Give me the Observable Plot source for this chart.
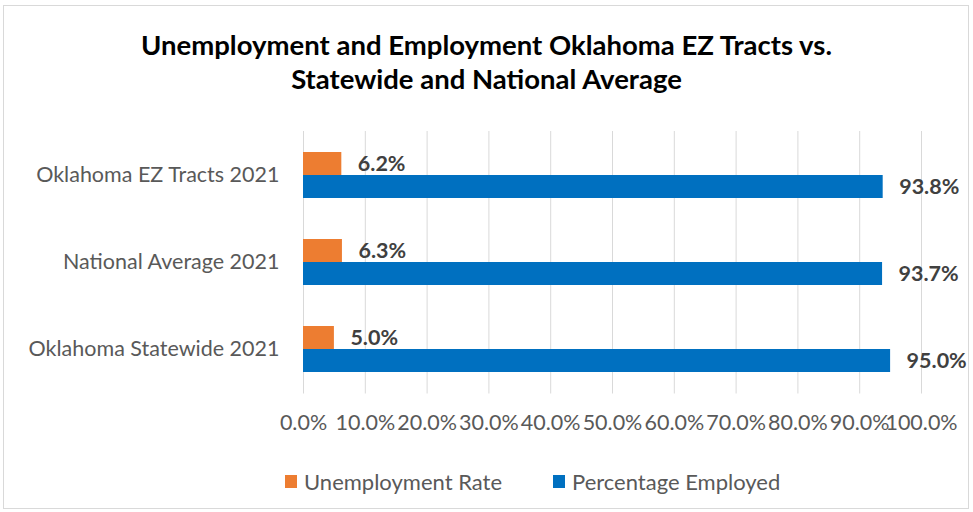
<!DOCTYPE html>
<html>
<head>
<meta charset="utf-8">
<script src="https://cdn.jsdelivr.net/npm/d3@7"></script>
<script src="https://cdn.jsdelivr.net/npm/@observablehq/plot@0.6"></script>
<style>
  body { margin: 0; background: #fff; font-family: Lato, "Open Sans", sans-serif; }
  #wrap { position: relative; width: 973px; height: 512px; overflow: hidden; }
  #frame { position: absolute; left: 3px; top: 5px; width: 966px; height: 504px; border: 1px solid #d9d9d9; box-sizing: border-box; }
  #title { position: absolute; left: 0; top: 28px; width: 973px; text-align: center; font-weight: bold; font-size: 27.5px; line-height: 34px; color: #000; }
  #chart { position: absolute; left: 0; top: 120px; }
  .leg { position: absolute; top: 468px; font-size: 22px; color: #595959; display: flex; align-items: center; }
  .sw { width: 12px; height: 13px; margin-right: 7px; }
</style>
</head>
<body>
<div id="wrap">
  <div id="frame"></div>
  <div id="title">Unemployment and Employment Oklahoma EZ Tracts vs.<br>Statewide and National Average</div>
  <div id="chart"></div>
  <div class="leg" style="left:285px"><div class="sw" style="background:#ED7D31"></div>Unemployment Rate</div>
  <div class="leg" style="left:553px"><div class="sw" style="background:#0070C0"></div>Percentage Employed</div>
</div>
<script>
const categories = ["Oklahoma EZ Tracts 2021", "National Average 2021", "Oklahoma Statewide 2021"];
const unemployment = [0.062, 0.063, 0.050];
const employed = [0.938, 0.937, 0.950];
const xTicks = [0, 0.1, 0.2, 0.3, 0.4, 0.5, 0.6, 0.7, 0.8, 0.9, 1.0];

const unempData = categories.map((c, i) => ({category: c, value: unemployment[i]}));
const empData = categories.map((c, i) => ({category: c, value: employed[i]}));
const fmt = d => (d * 100).toFixed(1) + "%";

const chart = Plot.plot({
  width: 973,
  height: 320,
  marginTop: 11,
  marginBottom: 46.5,
  marginLeft: 303,
  marginRight: 52,
  style: {fontFamily: "Lato, 'Open Sans', sans-serif", fontSize: "21.5px", color: "#595959", background: "transparent"},
  x: {domain: [0, 1], ticks: xTicks, tickFormat: fmt, tickSize: 0, tickPadding: 21, label: null},
  y: {domain: categories, paddingInner: 0.474, paddingOuter: 0.237, tickSize: 0, tickPadding: 24, label: null},
  marks: [
    Plot.ruleX(xTicks, {stroke: "#d9d9d9", strokeWidth: 1}),
    Plot.barX(unempData, {y: "category", x: "value", fill: "#ED7D31", insetBottom: 23}),
    Plot.barX(empData, {y: "category", x: "value", fill: "#0070C0", insetTop: 23}),
    Plot.text(unempData, {y: "category", x: "value", text: d => fmt(d.value), dx: 16, dy: -11.5, textAnchor: "start", fontWeight: "bold", fontSize: 21.5, fill: "#404040"}),
    Plot.text(empData, {y: "category", x: "value", text: d => fmt(d.value), dx: 16, dy: 11.5, textAnchor: "start", fontWeight: "bold", fontSize: 21.5, fill: "#404040"})
  ]
});
document.getElementById("chart").appendChild(chart);
</script>
</body>
</html>
